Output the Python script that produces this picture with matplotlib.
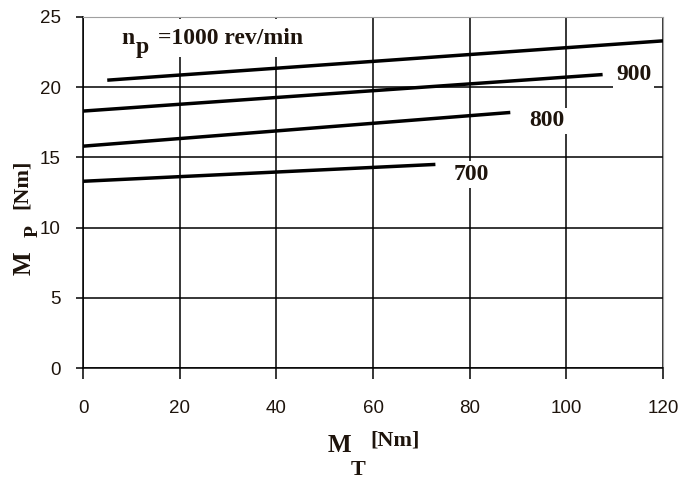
import matplotlib.pyplot as plt

# motor torque M_T [Nm] vs pump torque M_P [Nm], one line per pump speed
speeds = ['700', '800', '900']
mt_700 = [0, 72.9]
mp_700 = [13.3, 14.5]
mt_800 = [0, 88.4]
mp_800 = [15.8, 18.2]
mt_900 = [0, 107.5]
mp_900 = [18.3, 20.9]
mt_1000 = [5, 120]
mp_1000 = [20.5, 23.3]

label_x = [80.3, 96, 113.9]
label_y = [13.8, 17.6, 20.9]

xticks = [0, 20, 40, 60, 80, 100, 120]
yticks = [0, 5, 10, 15, 20, 25]

serif = ['Liberation Serif', 'DejaVu Serif']
txtc = '#1e140c'

fig = plt.figure(figsize=(6.81, 4.8), dpi=100)
ax = fig.add_axes([0.122, 0.2333, 0.8516, 0.7313])

for x, y in [(mt_700, mp_700), (mt_800, mp_800), (mt_900, mp_900), (mt_1000, mp_1000)]:
    ax.plot(x, y, color='black', lw=2.5, solid_capstyle='butt', zorder=3)

ax.set_xlim(0, 120)
ax.set_ylim(0, 25)
ax.set_xticks(xticks)
ax.set_yticks(yticks)
ax.grid(True, color='black', lw=1.1)
ax.set_axisbelow(True)

for s in ['top', 'right']:
    ax.spines[s].set_color('#a0a0a0')
for s in ['left', 'bottom']:
    ax.spines[s].set_color('black')
    ax.spines[s].set_linewidth(1.1)

ax.tick_params(axis='x', direction='out', length=8, width=1.1, pad=15,
               labelsize=13.5, labelcolor=txtc)
ax.tick_params(axis='y', direction='out', length=5, width=1.1, pad=11,
               labelsize=13.5, labelcolor=txtc)
for t in ax.get_xticklabels() + ax.get_yticklabels():
    t.set_fontfamily(['Liberation Sans Narrow', 'Liberation Sans', 'DejaVu Sans'])

box = dict(facecolor='white', edgecolor='none', pad=2)
for name, x, y in zip(speeds, label_x, label_y):
    ax.text(x, y, name, ha='center', va='center', fontsize=17,
            fontweight='bold', family=serif, color=txtc, bbox=box, zorder=4)

# speed label for the top line
ax.text(8, 23.5, r'n', ha='left', va='center', fontsize=17,
        fontweight='bold', family=serif, color=txtc, zorder=4)
ax.text(10.8, 22.85, 'p', ha='left', va='center', fontsize=17,
        fontweight='bold', family=serif, color=txtc, zorder=4)
ax.text(15.6, 23.5, '=1000 rev/min', ha='left', va='center', fontsize=17,
        fontweight='bold', family=serif, color=txtc,
        bbox=dict(facecolor='white', edgecolor='none', pad=6), zorder=4)

W, H = 681, 480
def ftext(px, py, s, size, **kw):
    fig.text(px / W, 1 - py / H, s, ha='center', va='center', fontsize=size,
             fontweight='bold', family=serif, color=txtc, **kw)

# x axis label
ftext(339, 445, 'M', 18)
ftext(358, 470, 'T', 16)
ftext(395, 440, '[Nm]', 16)

# y axis label
ftext(24, 263, 'M', 18, rotation=90)
ftext(33, 231, 'P', 14, rotation=90)
ftext(22, 184, '[Nm]', 16, rotation=90)

fig.savefig('out.png', dpi=100)
